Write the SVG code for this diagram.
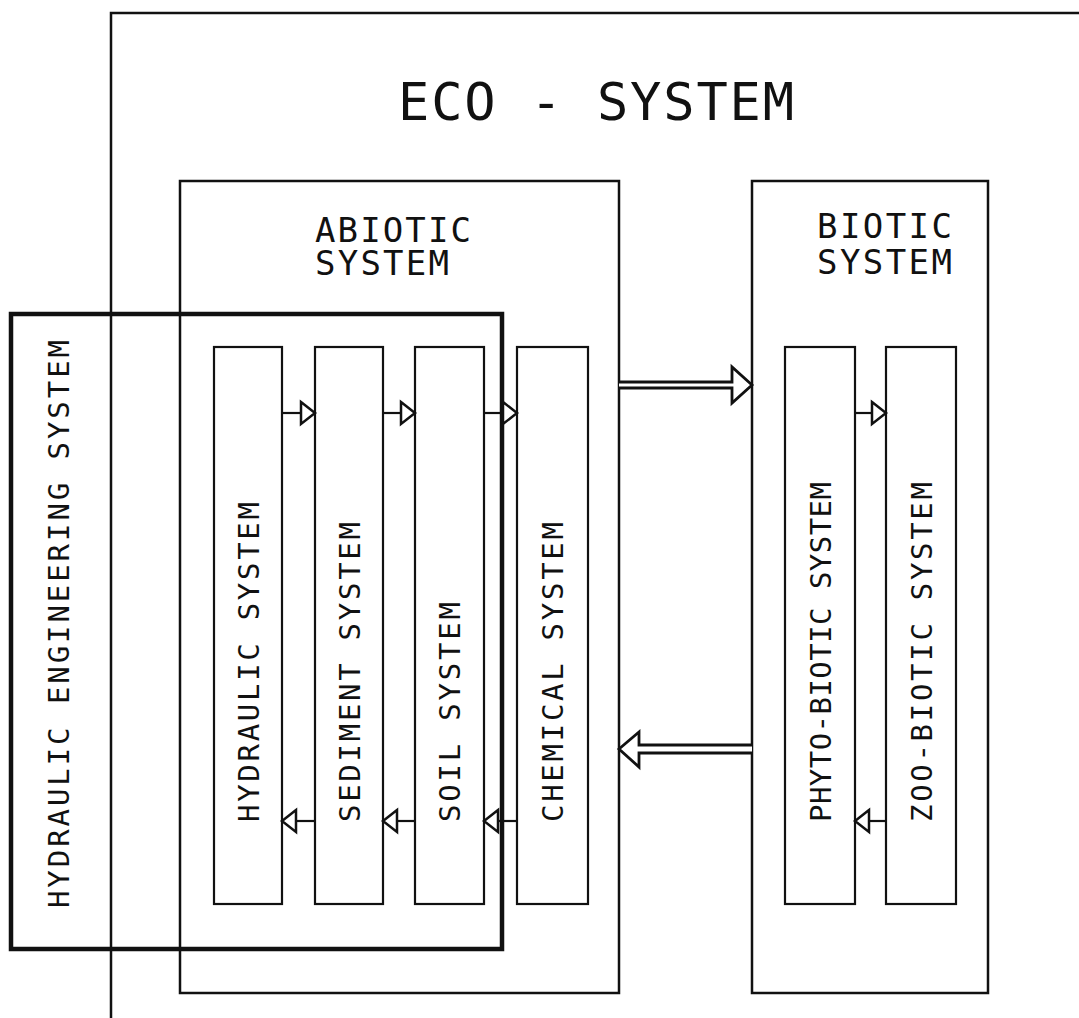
<svg xmlns="http://www.w3.org/2000/svg" width="1079" height="1018" viewBox="0 0 1079 1018">
<style>
.box{fill:none;stroke:#111;stroke-width:2.5}
.inner{fill:none;stroke:#111;stroke-width:2.2}
.heavy{fill:none;stroke:#111;stroke-width:4.5}
.t{font-family:"DejaVu Sans Mono","Liberation Mono",monospace;fill:#111}
.vt{font-family:"DejaVu Sans Mono","Liberation Mono",monospace;fill:#111;font-size:29px}
.conn{fill:none;stroke:#111;stroke-width:2.2}
.big{fill:#fff;stroke:#111;stroke-width:2.8;stroke-linejoin:miter}
.head{fill:#fff;stroke:#111;stroke-width:2.5;stroke-linejoin:miter}
</style>
<rect width="1079" height="1018" fill="#fff"/>
<g id="eco-system">
<path class="box" d="M111,1018 V13 H1079"/>
<text class="t" x="398" y="120" font-size="52" textLength="396">ECO - SYSTEM</text>
</g>
<g id="abiotic-system">
<rect class="box" x="180" y="181" width="439" height="812"/>
<text class="t" x="315" y="242" font-size="34" textLength="156">ABIOTIC</text>
<text class="t" x="315" y="275" font-size="34" textLength="134">SYSTEM</text>
</g>
<g id="biotic-system">
<rect class="box" x="752" y="181" width="236" height="812"/>
<text class="t" x="817" y="238" font-size="34" textLength="135">BIOTIC</text>
<text class="t" x="817" y="274" font-size="34" textLength="135">SYSTEM</text>
</g>
<g id="hydraulic-system">
<rect class="inner" x="214" y="347" width="68" height="557"/>
<text class="vt" transform="translate(259,822) rotate(-90)" textLength="320">HYDRAULIC SYSTEM</text>
</g>
<g id="sediment-system">
<rect class="inner" x="315" y="347" width="68" height="557"/>
<text class="vt" transform="translate(360,822) rotate(-90)" textLength="300">SEDIMENT SYSTEM</text>
</g>
<g id="soil-system">
<rect class="inner" x="415" y="347" width="69" height="557"/>
<text class="vt" transform="translate(460,822) rotate(-90)" textLength="220">SOIL SYSTEM</text>
</g>
<g id="chemical-system">
<rect class="inner" x="517" y="347" width="71" height="557"/>
<text class="vt" transform="translate(563,822) rotate(-90)" textLength="300">CHEMICAL SYSTEM</text>
</g>
<g id="phyto-biotic-system">
<rect class="inner" x="785" y="347" width="70" height="557"/>
<text class="vt" transform="translate(831,822) rotate(-90)" textLength="340">PHYTO-BIOTIC SYSTEM</text>
</g>
<g id="zoo-biotic-system">
<rect class="inner" x="886" y="347" width="70" height="557"/>
<text class="vt" transform="translate(932,822) rotate(-90)" textLength="340">ZOO-BIOTIC SYSTEM</text>
</g>
<g id="hydraulic-engineering-system">
<rect class="heavy" x="11" y="314" width="491" height="635"/>
<text class="vt" transform="translate(69,908) rotate(-90)" textLength="568">HYDRAULIC ENGINEERING SYSTEM</text>
</g>
<g id="connectors">
<path class="conn" d="M282,413 H301"/>
<path class="head" d="M301,402 L315,413 L301,424 Z"/>
<path class="conn" d="M383,413 H401"/>
<path class="head" d="M401,402 L415,413 L401,424 Z"/>
<path class="conn" d="M484,413 H503"/>
<path class="head" d="M503,402 L517,413 L503,424 Z"/>
<path class="conn" d="M855,413 H872"/>
<path class="head" d="M872,402 L886,413 L872,424 Z"/>
<path class="conn" d="M315,821 H296"/>
<path class="head" d="M296,810 L282,821 L296,832 Z"/>
<path class="conn" d="M415,821 H397"/>
<path class="head" d="M397,810 L383,821 L397,832 Z"/>
<path class="conn" d="M517,821 H498"/>
<path class="head" d="M498,810 L484,821 L498,832 Z"/>
<path class="conn" d="M886,821 H869"/>
<path class="head" d="M869,810 L855,821 L869,832 Z"/>
<path class="big" d="M619,382 H732 V367 L752,385 L732,403 V388 H619"/>
<path class="big" d="M752,745 H639 V732 L619,749 L639,767 V753 H752"/>
</g>
</svg>
